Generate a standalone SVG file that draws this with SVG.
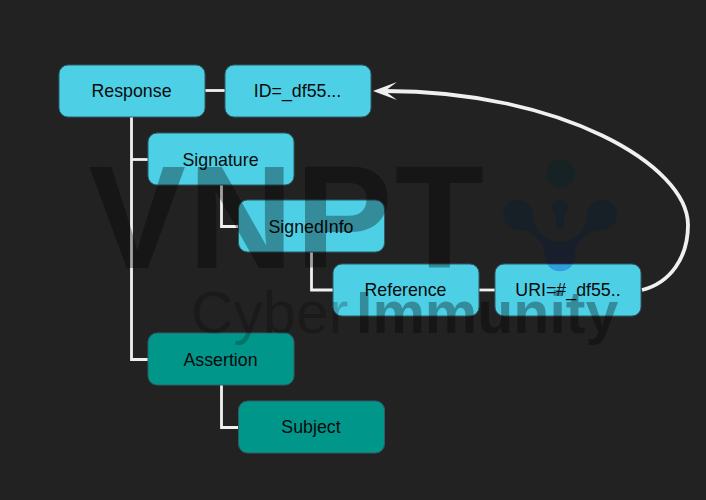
<svg xmlns="http://www.w3.org/2000/svg" width="706" height="500" viewBox="0 0 706 500">
<style>
.n{stroke:#2f5c66;stroke-width:1}
.c{fill:#4dd0e6}
.t{fill:#00968a}
text{font-family:"Liberation Sans",Arial,sans-serif}
.l{font-size:17.800px;fill:#0a0a0a;text-anchor:middle}
.e{fill:none;stroke:#f0f0f0;stroke-width:2.800}
.w{fill:#000;font-weight:700}
</style>
<defs>
<marker id="a" viewBox="0 0 24 18" refX="12" refY="9" markerWidth="24" markerHeight="18" markerUnits="userSpaceOnUse" orient="auto"><path d="M24 9L0 0L12 9L0 18Z" fill="#f0f0f0"/></marker>
<linearGradient id="g" gradientUnits="userSpaceOnUse" x1="0" y1="159" x2="0" y2="271"><stop offset="0" stop-color="#0b2422"/><stop offset="1" stop-color="#101a38"/></linearGradient>
</defs>
<rect width="706" height="500" fill="#222222"/>
<g id="connectors">
<path class="e" d="M131.500 116V359.500H148"/>
<path class="e" d="M131.500 159.500H148"/>
<path class="e" d="M205 90.500H225"/>
<path class="e" d="M221.500 185V226.500H238.500"/>
<path class="e" d="M311.500 252V290H333"/>
<path class="e" d="M479 290H495"/>
<path class="e" d="M221.500 385V427.500H238.500"/>
<path class="e" style="stroke-width:3.800" marker-end="url(#a)" d="M642 290C670 283 688 258 688 225C688 165 560 91 385 91"/>
</g>
<g id="response"><rect class="n c" x="59" y="65" width="146" height="52" rx="9"/><text class="l" x="131.500" y="97">Response</text></g>
<g id="id"><rect class="n c" x="225" y="65" width="146" height="52" rx="9"/><text class="l" x="297.500" y="97">ID=_df55...</text></g>
<g id="signature"><rect class="n c" x="148" y="133" width="146" height="52" rx="9"/><text class="l" x="220.500" y="166">Signature</text></g>
<g id="signedinfo"><rect class="n c" x="238.500" y="200" width="146" height="52" rx="9"/><text class="l" x="311" y="233">SignedInfo</text></g>
<g id="reference"><rect class="n c" x="333" y="264" width="146" height="52" rx="9"/><text class="l" x="405.500" y="296">Reference</text></g>
<g id="uri"><rect class="n c" x="495" y="264" width="146" height="52" rx="9"/><text class="l" x="568" y="296">URI=#_df55..</text></g>
<g id="assertion"><rect class="n t" x="148" y="333" width="146" height="52" rx="9"/><text class="l" x="220.500" y="366">Assertion</text></g>
<g id="subject"><rect class="n t" x="238.500" y="401" width="146" height="52" rx="9"/><text class="l" x="311" y="433">Subject</text></g>
<g opacity="0.32">
<text class="w" x="88.500" y="268" font-size="146" letter-spacing="2">VNPT</text>
<text class="w" x="356" y="333" font-size="59">Immunity</text>
</g>
<text x="191" y="333" font-size="59" fill="#000" opacity="0.22">Cyber</text>
<g opacity="0.5" fill="url(#g)">
<circle cx="560.500" cy="173.500" r="14.500"/>
<path d="M518 230C535 230 545 245 545 256A15 15 0 0 0 575 256C575 245 585 230 602 230A15 15 0 1 0 587 215A27 27 0 0 1 533 215A15 15 0 1 0 518 230Z"/>
<circle cx="560" cy="208" r="8"/>
<rect x="556" y="208" width="8" height="21.500" rx="3.500"/>
</g>
<path d="M547.500 264.500A15 15 0 0 0 572.500 264.500Z" fill="#2f9fe0"/>
</svg>
